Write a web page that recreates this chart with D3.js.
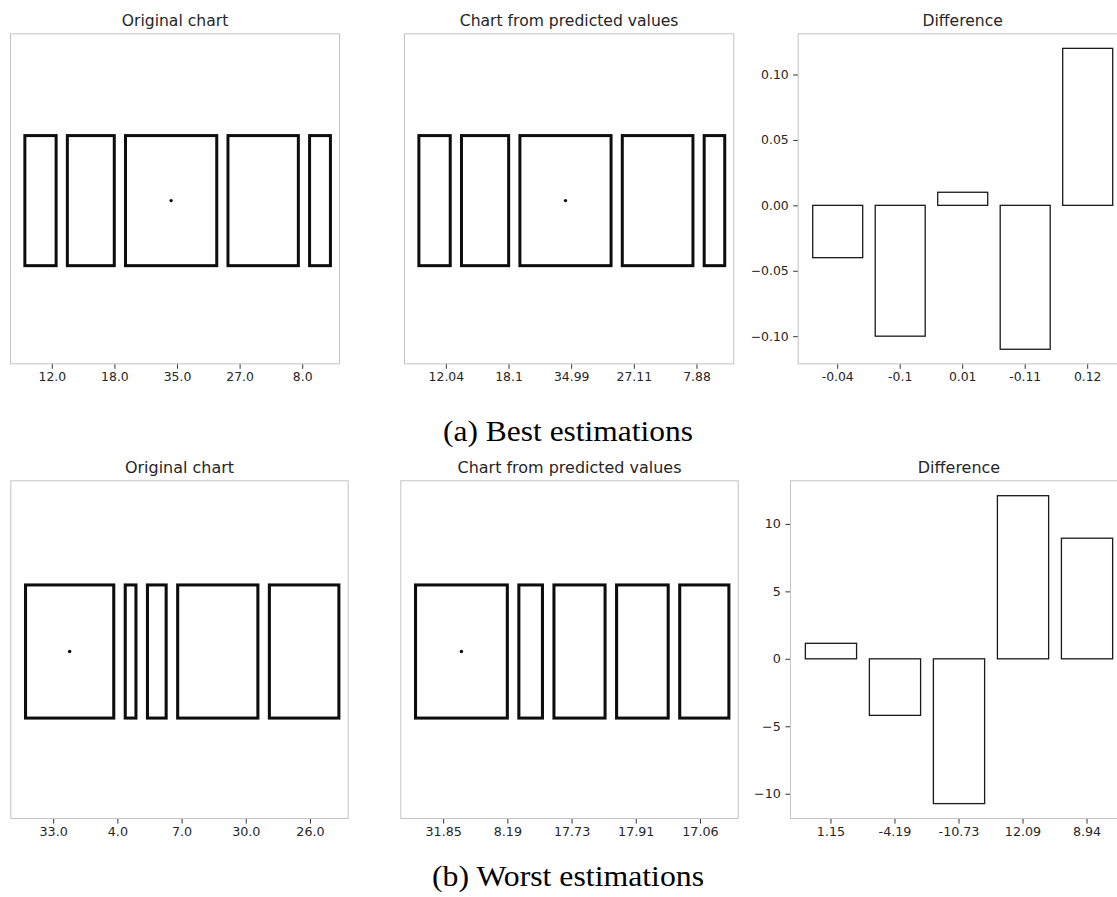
<!DOCTYPE html>
<html>
<head>
<meta charset="utf-8">
<script src="https://cdn.jsdelivr.net/npm/d3@7"></script>
<style>
  html, body { margin: 0; padding: 0; background: #fff; }
  svg { display: block; }
</style>
</head>
<body>
<svg id="fig" width="1117" height="897"></svg>
<script>
// ---- data -------------------------------------------------------------
const panelTitles = ["Original chart", "Chart from predicted values", "Difference"];
const captions = ["(a) Best estimations", "(b) Worst estimations"];

// (a) best estimations
const originalA = [12, 18, 35, 27, 8];
const predictedA = [12.04, 18.1, 34.99, 27.11, 7.88];
const differenceA = [-0.04, -0.1, 0.01, -0.11, 0.12];
const originalLabelsA = ["12.0", "18.0", "35.0", "27.0", "8.0"];
const predictedLabelsA = ["12.04", "18.1", "34.99", "27.11", "7.88"];
const differenceLabelsA = ["-0.04", "-0.1", "0.01", "-0.11", "0.12"];
const yTicksA = [-0.10, -0.05, 0, 0.05, 0.10];

// (b) worst estimations
const originalB = [33, 4, 7, 30, 26];
const predictedB = [31.85, 8.19, 17.73, 17.91, 17.06];
const differenceB = [1.15, -4.19, -10.73, 12.09, 8.94];
const originalLabelsB = ["33.0", "4.0", "7.0", "30.0", "26.0"];
const predictedLabelsB = ["31.85", "8.19", "17.73", "17.91", "17.06"];
const differenceLabelsB = ["1.15", "-4.19", "-10.73", "12.09", "8.94"];
const yTicksB = [-10, -5, 0, 5, 10];

// ---- layout -----------------------------------------------------------
const svg = d3.select("#fig");
const SPINE = "#c4c4c4";
const INK = "#262626";
const SANS = "'DejaVu Sans', sans-serif";

svg.append("defs").append("filter")
  .attr("id", "soft")
  .attr("x", "-5%").attr("y", "-5%").attr("width", "110%").attr("height", "110%")
  .append("feGaussianBlur").attr("stdDeviation", 0.55);

const rows = [
  {
    top: 33.3, bottom: 364.3, k: 1,
    panels: [[10, 340], [404, 734.3], [797.7, 1127.7]],
    original: originalA, predicted: predictedA, difference: differenceA,
    origLabels: originalLabelsA, predLabels: predictedLabelsA, diffLabels: differenceLabelsA,
    yTicks: yTicksA, yFormat: d3.format(".2f"),
    caption: captions[0], captionY: 441, captionW: 250
  },
  {
    top: 480.3, bottom: 819, k: 1.024,
    panels: [[10.3, 348.7], [400.3, 738.7], [790, 1128]],
    original: originalB, predicted: predictedB, difference: differenceB,
    origLabels: originalLabelsB, predLabels: predictedLabelsB, diffLabels: differenceLabelsB,
    yTicks: yTicksB, yFormat: d3.format("d"),
    caption: captions[1], captionY: 886, captionW: 272
  }
];

function title(g, x0, x1, y0, text, k) {
  g.append("text")
    .attr("x", (x0 + x1) / 2)
    .attr("y", y0 - 7.6 * k)
    .attr("text-anchor", "middle")
    .attr("font-family", SANS)
    .attr("font-size", 15.6 * k)
    .attr("fill", INK)
    .text(text);
}

function styleAxis(ax, k) {
  ax.selectAll(".domain").remove();
  ax.selectAll(".tick line").attr("stroke", "#333").attr("stroke-width", 1);
  ax.selectAll(".tick text")
    .attr("font-family", SANS)
    .attr("font-size", 12.4 * k)
    .attr("fill", INK);
}

// Proportional box chart: each value becomes a box whose width is its share.
function mosaic(g, x0, x1, y0, y1, values, labels, k) {
  const fx = d3.scaleLinear().domain([0, 1]).range([x0, x1]);
  const fy = d3.scaleLinear().domain([0, 1]).range([y0, y1]);

  const left = fx(0.045), right = fx(0.971);
  const gap = 0.034 * (x1 - x0);
  const total = d3.sum(values);
  const w = d3.scaleLinear().domain([0, total])
    .range([0, right - left - gap * (values.length - 1)]);
  const starts = [0, ...d3.cumsum(values)].slice(0, values.length);

  const boxes = values.map((v, i) => ({
    x: left + w(starts[i]) + gap * i,
    width: w(v),
    value: v
  }));

  const ink = g.append("g").attr("filter", "url(#soft)");
  ink.selectAll("rect.box").data(boxes).join("rect")
    .attr("class", "box")
    .attr("x", d => d.x)
    .attr("y", fy(0.309))
    .attr("width", d => d.width)
    .attr("height", fy(0.702) - fy(0.309))
    .attr("fill", "none")
    .attr("stroke", "#111")
    .attr("stroke-width", 3 * k);

  // marker at the centre of the largest box
  const big = boxes[d3.maxIndex(values)];
  ink.append("circle")
    .attr("cx", big.x + big.width / 2)
    .attr("cy", (fy(0.309) + fy(0.702)) / 2)
    .attr("r", 1.7 * k)
    .attr("fill", "#111");

  g.append("rect")
    .attr("x", x0 + 0.5).attr("y", y0 + 0.5)
    .attr("width", x1 - x0 - 1).attr("height", y1 - y0 - 1)
    .attr("fill", "none").attr("stroke", SPINE).attr("stroke-width", 1);

  const tx = d3.scalePoint().domain(d3.range(values.length))
    .range([fx(0.1267), fx(0.8855)]);
  const ax = g.append("g")
    .attr("transform", `translate(0,${y1})`)
    .call(d3.axisBottom(tx).tickSize(4.5 * k).tickPadding(3.5 * k)
      .tickFormat(i => labels[i]));
  styleAxis(ax, k);
}

// Bar chart of the differences, with matplotlib-like margins.
function differenceChart(g, x0, x1, y0, y1, values, labels, ticks, fmt, k) {
  const x = d3.scaleBand().domain(d3.range(values.length))
    .range([x0, x1]).paddingInner(0.2).paddingOuter(0.24);
  const [mn, mx] = d3.extent([...values, 0]);
  const m = (mx - mn) * 0.05;
  const y = d3.scaleLinear().domain([mn - m, mx + m]).range([y1, y0]);

  g.append("rect")
    .attr("x", x0 + 0.5).attr("y", y0 + 0.5)
    .attr("width", x1 - x0 - 1).attr("height", y1 - y0 - 1)
    .attr("fill", "none").attr("stroke", SPINE).attr("stroke-width", 1);

  g.selectAll("rect.bar").data(values).join("rect")
    .attr("class", "bar")
    .attr("x", (d, i) => x(i))
    .attr("y", d => y(Math.max(0, d)))
    .attr("width", x.bandwidth())
    .attr("height", d => Math.abs(y(d) - y(0)))
    .attr("fill", "none")
    .attr("stroke", "#1a1a1a")
    .attr("stroke-width", 1.3);

  const ay = g.append("g")
    .attr("transform", `translate(${x0},0)`)
    .call(d3.axisLeft(y).tickValues(ticks).tickSize(4.5 * k).tickPadding(4.5 * k)
      .tickFormat(d => fmt(d).replace("-", "\u2212")));
  styleAxis(ay, k);

  const ax = g.append("g")
    .attr("transform", `translate(0,${y1})`)
    .call(d3.axisBottom(x).tickSize(4.5 * k).tickPadding(3.5 * k)
      .tickFormat(i => labels[i]));
  styleAxis(ax, k);
}

rows.forEach(r => {
  const g = svg.append("g");
  const [p1, p2, p3] = r.panels;

  title(g, p1[0], p1[1], r.top, panelTitles[0], r.k);
  mosaic(g, p1[0], p1[1], r.top, r.bottom, r.original, r.origLabels, r.k);

  title(g, p2[0], p2[1], r.top, panelTitles[1], r.k);
  mosaic(g, p2[0], p2[1], r.top, r.bottom, r.predicted, r.predLabels, r.k);

  title(g, p3[0], p3[1], r.top, panelTitles[2], r.k);
  differenceChart(g, p3[0], p3[1], r.top, r.bottom, r.difference, r.diffLabels,
    r.yTicks, r.yFormat, r.k);

  g.append("text")
    .attr("x", 568)
    .attr("y", r.captionY)
    .attr("text-anchor", "middle")
    .attr("font-family", "'Liberation Serif', 'DejaVu Serif', serif")
    .attr("font-size", 29)
    .attr("textLength", r.captionW)
    .attr("lengthAdjust", "spacingAndGlyphs")
    .attr("fill", "#000")
    .text(r.caption);
});
</script>
</body>
</html>
